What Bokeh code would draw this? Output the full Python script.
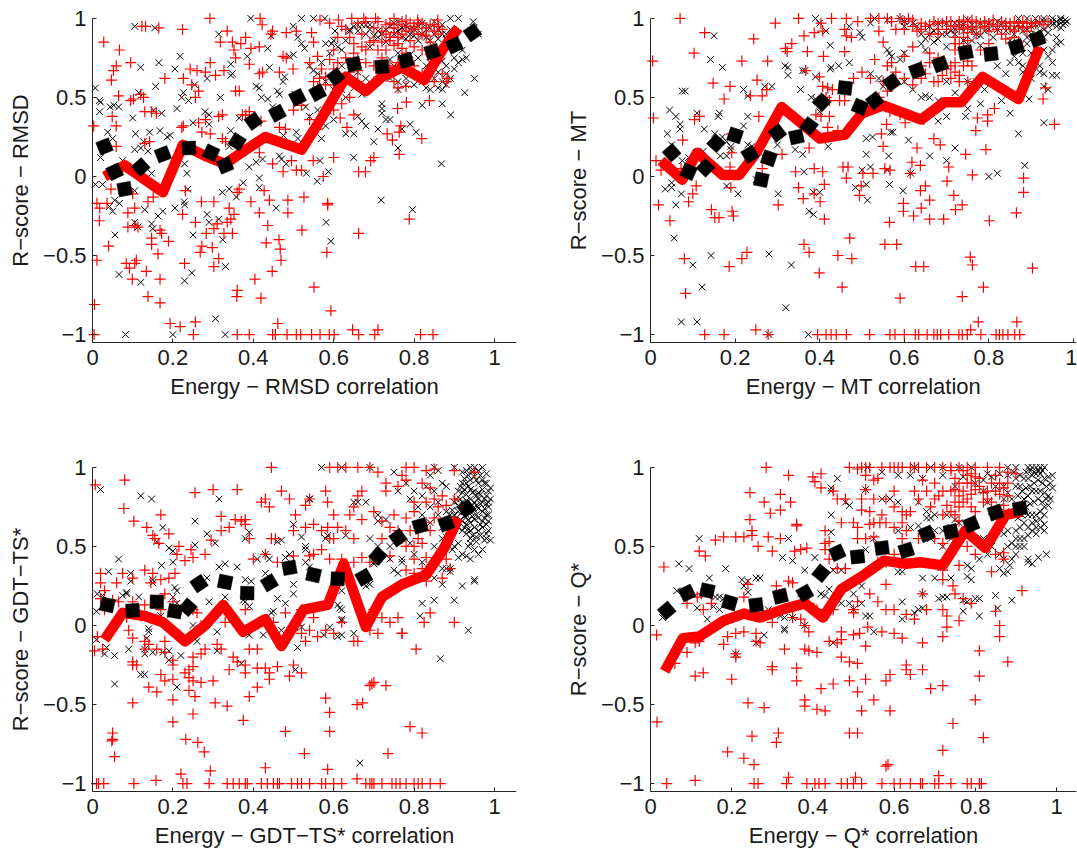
import math
from bokeh.plotting import figure
from bokeh.layouts import column, row
from bokeh.models import Label
from bokeh.embed import file_html
from bokeh.resources import INLINE

X_TICKS = [0, 0.2, 0.4, 0.6, 0.8, 1]
X_LABELS = ["0", "0.2", "0.4", "0.6", "0.8", "1"]
Y_TICKS = [-1, -0.5, 0, 0.5, 1]
Y_LABELS = ["\u22121", "\u22120.5", "0", "0.5", "1"]

P1_RED_MEAN = [(.03,0),(.08,.07),(.175,-.1),(.225,.2),(.28,.13),(.33,.08),(.37,.15),(.43,.25),(.52,.17),(.57,.37),(.63,.63),(.68,.54),(.72,.63),(.77,.69),(.825,.61),(.87,.8),(.91,.94)]
P1_BLACK_MEAN = [(.03,.19),(.055,.03),(.08,-.08),(.12,.06),(.175,.14),(.24,.18),(.295,.15),(.33,.07),(.36,.22),(.40,.35),(.46,.40),(.51,.5),(.56,.53),(.605,.63),(.65,.71),(.72,.695),(.78,.735),(.845,.79),(.90,.83),(.945,.91)]
P2_RED_MEAN = [(.025,.1),(.075,-.02),(.11,.15),(.17,.01),(.21,.01),(.25,.15),(.31,.44),(.4,.24),(.46,.265),(.5,.4),(.55,.45),(.64,.36),(.695,.47),(.735,.47),(.785,.63),(.87,.49),(.92,.82)]
P2_BLACK_MEAN = [(.05,.15),(.09,.03),(.13,.055),(.155,.21),(.2,.26),(.235,.14),(.262,-.02),(.28,.115),(.30,.275),(.345,.25),(.375,.32),(.405,.47),(.46,.56),(.495,.44),(.53,.48),(.57,.595),(.63,.67),(.685,.71),(.745,.785),(.805,.775),(.865,.82),(.915,.87)]
P3_RED_MEAN = [(.03,-.09),(.075,.08),(.13,.06),(.175,.02),(.23,-.1),(.28,0),(.325,.13),(.375,-.04),(.43,.04),(.47,-.13),(.525,.1),(.585,.13),(.625,.39),(.68,-.01),(.72,.18),(.77,.26),(.83,.32),(.875,.49),(.91,.68)]
P3_BLACK_MEAN = [(.037,.13),(.10,.095),(.16,.15),(.205,.09),(.237,.115),(.265,.265),(.33,.275),(.385,.205),(.44,.27),(.49,.365),(.55,.32),(.61,.295),(.675,.305),(.71,.44),(.76,.555),(.815,.63),(.88,.645),(.93,.74)]
P4_RED_MEAN = [(.035,-.29),(.08,-.08),(.12,-.07),(.18,.03),(.23,.075),(.27,.05),(.33,.105),(.38,.14),(.425,.05),(.47,.23),(.52,.31),(.575,.41),(.63,.39),(.665,.4),(.72,.38),(.775,.6),(.825,.49),(.875,.7),(.915,.72)]
P4_BLACK_MEAN = [(.04,.095),(.09,.205),(.14,.22),(.195,.145),(.26,.13),(.32,.185),(.38,.205),(.42,.33),(.46,.46),(.51,.435),(.57,.49),(.63,.475),(.68,.58),(.74,.595),(.79,.64),(.85,.715),(.91,.74)]

P1_RED = [(.004,-1),(.005,-.81),(.011,-.53),(.003,.32),(.028,.85),(.011,-.17),(.018,-.2),(.017,-.28),(.036,-.17),(.04,-.44),(.046,-.08),(.059,.19),(.049,.38),(.059,.32),(.047,.61),(.052,.67),(.059,.7),(.065,.51),(.067,.8),(.095,.72),(.095,.48),(.102,.49),(.12,.52),(.127,.5),(.123,.95),(.132,.95),(.165,.94),(.224,.93),(.292,1),(.335,.92),(.318,.85),(.348,.85),(.352,.8),(.369,.84),(.381,.88),(.394,.81),(.417,1),(.422,.96),(.415,.82),(.444,.9),(.448,.92),(.482,.91),(.507,.92),(.545,.91),(.566,.99),(.612,.99),(.645,1),(.675,1),(.704,1),(.75,1),(.78,.99),(.809,.99),(.859,.99),
(.39,.71),(.356,.75),(.293,.72),(.327,.67),(.306,.64),(.281,.66),(.26,.67),(.243,.68),(.226,.62),(.18,.62),(.247,.58),(.264,.54),(.256,.5),(.356,.54),(.365,.54),(.415,.65),(.423,.66),(.465,.66),(.499,.68),(.482,.75),(.474,.76),(.13,.41),(.159,.4),(.147,.41),(.226,.32),(.222,.31),(.281,.36),(.264,.34),(.314,.38),(.323,.39),(.272,.28),(.293,.27),(.323,.24),(.331,.22),(.373,.39),(.381,.39),(.39,.41),(.419,.35),(.465,.31),(.415,.15),(.448,.08),(.495,.1),(.474,.03),(.507,.04),(.52,.04),(.549,.1),(.574,0),(.6,.12),(.616,.37),(.633,.31),(.65,.39),(.7,.12),(.692,.1),(.662,.03),(.679,.03),(.733,.27),(.746,.23),(.763,.14),(.763,.28),(.767,.32),(.819,.24),(.759,.43),(.781,.47),(.884,.62),(.838,.48),
(.13,.21),(.142,.22),(.138,-.16),(.151,-.13),(.088,-.23),(.105,-.2),(.1,-.11),(.088,-.32),(.105,-.31),(.113,-.32),(.147,-.39),(.147,-.43),(.168,-.34),(.172,-.36),(.189,-.41),(.163,-.49),(.084,-.55),(.109,-.53),(.105,-.55),(.092,-.58),(.099,-.65),(.134,-.6),(.138,-.76),(.168,-.65),(.168,-.8),(.193,-.93),(.218,-.95),(.251,-1),(.256,-.92),(.229,-.55),(.224,-.24),(.231,-.09),(.271,-.16),(.256,-.29),(.268,-.48),(.272,-.44),(.302,-.33),(.283,-.36),(.298,-.45),(.302,-.57),(.314,-.52),(.302,-.16),(.31,-.3),(.335,-.29),(.344,-.27),(.34,-.2),(.352,-.24),(.348,-.36),(.327,-.36),(.36,-.1),(.365,-.08),(.394,-.16),(.415,-.23),(.427,-.09),(.44,-.15),(.486,-.15),(.486,-.23),(.436,-.31),(.432,-.42),(.464,-.4),(.467,-.46),(.469,-.53),(.447,-.6),(.404,-.65),(.419,-.77),(.36,-.72),(.359,-.76),(.36,-1),(.39,-1),(.448,-1),(.455,-1),(.484,-1),(.461,-.93),(.507,-1),(.518,-1),(.545,-1),(.566,-1),(.589,-1),(.601,-1),(.593,-.85),(.551,-.7),(.583,-.48),(.585,-.17),(.585,-.18),(.521,-.34),(.526,-.13),(.647,-.97),(.662,-1),(.702,-1),(.71,-.97),(.816,-1),(.847,-1),(.662,-.36),(.788,-.27),
(.55,.85),(.56,.76),(.54,.72),(.57,.68),(.565,.62),(.58,.63),(.55,.6),(.59,.74),(.6,.8),(.61,.88),(.63,.93),(.65,.84),(.67,.9),(.68,.8),(.7,.86),(.72,.92),(.73,.8),(.74,.88),(.75,.94),(.76,.84),(.77,.9),(.78,.95),(.79,.86),(.8,.93),(.81,.97),(.82,.9),(.83,.94),(.84,.85),(.85,.96),(.86,.9),(.7,.7),(.72,.75),(.68,.72),(.75,.6),(.76,.56),(.78,.57),(.66,.6),(.64,.5),(.62,.46),(.6,.42),(.58,.4),(.56,.3),(.54,.36),(.52,.45),(.5,.42),(.48,.3),(.7,.6),
(.59,.97),(.62,.95),(.64,.88),(.66,.97),(.68,.98),(.7,.94),(.71,.98),(.73,.96),(.74,.97),(.75,.91),(.76,.96),(.77,.98),(.78,.92),(.79,.97),(.8,.95),(.81,.9),(.82,.97),(.83,.89),(.84,.96),(.85,.92),(.86,.95),(.87,.93),(.74,.86),(.75,.83),(.77,.81),(.76,.88),(.73,.9),(.72,.85),(.71,.8),(.69,.85),(.67,.82),(.65,.78),(.66,.74),(.63,.75),(.61,.72),(.6,.68),(.58,.58),(.56,.56),(.6,.58),(.62,.62),(.64,.66),(.66,.67),(.74,.7),(.76,.72),(.78,.78),(.8,.82),(.82,.8),(.84,.77),(.8,.7),(.82,.65),(.85,.6),(.87,.65),(.88,.6)]
P1_BLACK = [(.007,.56),(.017,.48),(.02,.47),(.018,.41),(.007,-.05),(.025,-.05),(.02,.12),(.038,.28),(.05,.24),(.044,.44),(.053,.45),(.065,.44),(.056,-.37),(.066,-.62),(.082,-1),(.2,-1),(.33,-1),(.306,-.9),(.105,.95),(.155,.94),(.165,.72),(.12,.69),(.115,.53),(.157,.57),(.152,.42),(.172,.4),(.1,.37),(.107,.27),(.127,.22),(.142,.28),(.168,.29),(.186,.25),(.193,.26),(.105,.17),(.12,.18),(.138,.16),(.075,.1),(.105,-.09),(.055,-.15),(.05,-.22),(.042,-.19),(.067,-.17),(.147,.02),(.13,-.21),(.147,-.3),(.15,-.33),(.163,-.25),(.175,-.22),(.105,-.29),(.113,-.32),(.12,-.67),(.205,-.2),(.228,-.16),(.229,-.18),(.247,-.61),(.229,-.66),(.25,-.37),(.285,-.24),(.29,-.29),(.314,-.27),(.324,-.4),(.331,-.57),(.323,-.1),(.34,-.08),(.358,-.13),(.375,-.04),(.415,-.01),(.415,-.07),(.237,-.08),(.235,.02),(.229,.08),(.21,.43),(.226,.53),(.222,.5),(.239,.48),(.205,.68),(.218,.76),(.254,.58),(.25,.34),(.28,.41),(.29,.39),(.29,.33),(.318,.5),(.314,.9),(.285,.62),(.394,1),(.385,.76),(.344,.71),(.348,.65),(.344,.64),(.34,.19),(.344,.29),(.365,.37),(.39,.06),(.407,.09),(.423,.11),(.407,.57),(.415,.56),(.44,.69),(.436,.81),(.444,.89),(.42,.5),(.436,.49),(.448,.44),(.46,.54),(.465,.52),(.474,.6),(.478,.63),(.503,.52),(.499,.95),(.511,.88),(.52,.84),(.528,.81),(.49,.76),(.5,.77),(.52,1),(.55,1),(.578,1),(.595,.84),(.603,.92),(.549,.67),(.54,.7),(.465,.13),(.47,.11),(.482,.08),(.475,.26),(.507,.28),(.511,.24),(.457,-.2),(.532,.02),(.559,-.03),(.587,.03),(.566,.1),(.581,-.29),(.593,-.41),(.718,-.15),(.796,-.21),(.868,.08),(.891,.39),(.926,.53),(.95,.62),(.947,.98),
(.53,.44),(.54,.38),(.56,.42),(.58,.32),(.6,.36),(.57,.24),(.63,.27),(.65,.27),(.65,.12),(.66,.38),(.67,.35),(.68,.32),(.7,.22),(.71,.3),(.72,.4),(.73,.36),(.74,.36),(.76,.18),(.77,.3),(.79,.33),(.805,.28),(.82,.45),(.83,.56),(.84,.55),(.87,.46),(.88,.58),(.87,.55),(.89,.62),(.88,.7),(.87,.73),(.63,.5),(.65,.56),(.67,.52),(.72,.46),(.72,.43),(.76,.6),(.78,.58),(.8,.58),(.62,.8),(.64,.93),(.65,.95),(.66,.92),(.67,.96),(.68,.96),(.69,.93),(.7,.89),(.71,.88),(.72,.9),(.73,.85),(.74,.95),(.75,.9),(.76,.98),(.77,.94),(.78,.87),(.79,.93),(.8,.89),(.81,.95),(.82,.9),(.83,.93),(.84,.86),(.85,.98),(.86,.93),(.87,.96),(.88,.9),(.89,1),(.91,1),(.92,.8),(.93,.75),(.91,.82),(.9,.75),(.96,.9),(.95,.94),(.89,.86),(.6,.86),(.62,.7),(.69,.82),(.74,.74),(.76,.78),(.83,.7),
(.64,.92),(.66,.96),(.68,.9),(.69,.96),(.71,.92),(.73,.93),(.75,.97),(.76,.92),(.77,.88),(.78,.95),(.79,.9),(.8,.93),(.81,.86),(.82,.97),(.83,.88),(.84,.94),(.85,.9),(.86,.87),(.87,.9),(.88,.87),(.89,.93),(.63,.86),(.61,.82),(.59,.78),(.58,.84),(.57,.72),(.56,.65),(.58,.6),(.6,.55),(.62,.55),(.64,.6),(.66,.66),(.68,.62),(.74,.62),(.76,.55),(.78,.62),(.8,.65),(.82,.6),(.85,.62),(.86,.56),(.87,.6),(.88,.65),(.9,.68),(.91,.72),(.92,.74),(.86,.66),(.84,.72),(.81,.75),(.79,.77),(.77,.72),(.75,.7)]

P2_RED = [(.07,1),(.128,.91),(.103,.78),(.005,.73),(.007,.37),(.013,.1),(.025,.04),(.019,-.18),(.046,-.28),(.072,.05),(.076,.23),(.104,.36),(.116,.38),(.108,-.06),(.1,-.11),(.09,-.16),(.144,-.21),(.152,-.26),(.162,-.26),(.193,-.22),(.196,-.25),(.08,-.52),(.083,-.74),(.128,-1),(.174,-1),(.186,-.57),(.216,-.52),(.228,-.48),(.249,-.97),(.278,-1),(.148,.59),(.174,.49),(.188,.57),(.216,.73),(.244,.87),(.252,.61),(.236,.51),(.264,.51),(.275,.55),(.277,.73),(.295,.97),(.35,1),(.319,.81),(.323,.79),(.334,.84),(.363,.89),(.387,.91),(.407,.92),(.428,1),(.463,1),(.403,.97),(.459,.93),(.49,.98),(.463,.89),(.475,.88),(.459,.79),(.409,.76),(.371,.79),(.367,.67),(.399,.63),(.407,.57),(.419,.56),(.43,.55),(.415,.5),(.423,.48),(.391,.39),(.403,.38),(.423,.38),(.419,.31),(.447,.48),(.459,.48),(.443,.29),(.475,.33),(.455,.06),(.467,.06),(.463,-.01),(.494,-.12),(.498,-.06),(.502,.02),(.526,.02),(.375,.18),(.387,.05),(.407,.03),(.411,-.05),(.343,.03),(.35,-.07),(.361,-.14),(.387,-.11),(.401,-.16),(.411,-.27),(.302,-.18),(.264,.05),(.311,.14),(.256,.38),(.192,.27),(.192,.15),(.188,.06),(.19,-.07),
(.363,-.43),(.375,-.48),(.443,-.5),(.471,-.39),(.476,-.52),(.399,-.61),(.453,-.7),(.395,-1),(.415,-1),(.427,-1),(.439,-1),(.463,-1),(.518,-1),(.566,-1),(.578,-1),(.6,-1),(.626,-1),(.634,-1),(.654,-1),(.67,-1),(.678,-1),(.686,-1),(.705,-1),(.729,-1),(.737,-1),(.757,-.97),(.749,-1),(.781,-1),(.775,-.92),(.817,-1),(.825,-1),(.833,-1),(.845,-1),(.861,-1),(.873,-1),(.866,-.92),(.787,-.7),(.737,-.76),(.59,-.77),(.903,-.58),(.756,-.51),(.761,-.56),(.627,-.57),(.646,-.57),(.554,-.43),(.582,-.43),(.565,-.29),(.598,-.17),(.598,-.22),(.622,-.25),(.64,-.2),(.66,-.27),(.693,-.27),(.66,-.15),(.638,-.09),(.65,-.06),(.717,-.12),(.721,-.21),(.737,-.18),(.801,-.28),(.865,-.23),(.882,-.1),(.882,-.01),(.761,.01),(.745,.14),(.701,-.03),(.705,.06),(.638,.07),(.618,.09),(.614,.02),(.63,.18),(.685,.2),(.67,.24),(.793,.17),(.955,.33),(.928,.49),(.934,.56),(.797,.39),(.797,.35),(.813,.43),(.769,.29),(.773,.37),(.646,.36),(.602,.34),(.59,.39),(.566,.41),(.558,.33),(.546,.27),(.55,.19),(.554,.05),(.566,.04),
(.52,1),(.54,1),(.54,.92),(.55,.85),(.56,1),(.57,.98),(.59,1),(.6,.93),(.61,1),(.62,.95),(.63,.92),(.64,.97),(.65,.95),(.66,.9),(.67,.98),(.68,.93),(.69,.97),(.7,.98),(.71,.98),(.72,.95),(.73,.98),(.74,.99),(.74,.94),(.75,.98),(.76,.95),(.76,.99),(.77,.98),(.78,.94),(.79,.98),(.8,.97),(.81,.99),(.82,.95),(.83,.98),(.84,.97),(.85,.93),(.86,.98),(.87,.95),(.88,.98),(.89,.97),(.9,.97),(.92,.98),(.94,.98),(.68,.9),(.72,.88),(.72,.84),(.74,.8),(.62,.82),(.6,.76),(.64,.7),(.62,.58),(.64,.62),(.63,.66),(.66,.72),(.68,.6),(.7,.68),(.72,.66),(.74,.7),(.73,.64),(.75,.6),(.6,.62),(.56,.7),(.53,.74),(.5,.66),(.48,.62),(.55,.6),(.56,.54),(.52,.62),(.54,.5),(.5,.45),(.58,.66),(.57,.72),
(.58,.93),(.6,.98),(.62,.99),(.64,.93),(.66,.96),(.68,.97),(.7,.93),(.71,.95),(.73,.93),(.74,.96),(.75,.91),(.76,.93),(.77,.9),(.78,.97),(.79,.95),(.8,.92),(.81,.96),(.82,.93),(.83,.9),(.84,.95),(.85,.97),(.86,.92),(.87,.97),(.88,.94),(.89,.92),(.9,.95),(.91,.97),(.93,.96),(.75,.86),(.74,.88),(.73,.84),(.72,.8),(.68,.75),(.66,.78),(.65,.65),(.67,.6),(.69,.64),(.71,.7),(.75,.73),(.76,.7),(.78,.8),(.8,.84),(.84,.87),(.86,.88),(.87,.85),(.72,.72),(.71,.62),(.73,.6)]
P2_BLACK = [(.39,1),(.4,.97),(.415,.92),(.425,.83),(.15,.89),(.142,.74),(.17,.69),(.22,.55),(.075,.54),(.082,.54),(.045,.42),(.06,.38),(.07,.33),(.07,.3),(.04,.27),(.11,.4),(.127,.3),(.152,.27),(.16,.38),(.163,.4),(.17,.25),(.18,.22),(.19,.19),(.19,.17),(.18,.13),(.165,.13),(.125,.16),(.09,.12),(.05,.2),(.075,.1),(.075,.01),(.035,-.08),(.05,-.04),(.05,-.07),(.073,-.11),(.06,-.18),(.056,-.39),(.1,-.56),(.143,-.5),(.122,-.7),(.073,-.92),(.11,-.92),(.28,-1),(.28,-.49),(.333,-.56),(.32,-.83),(.373,-1),(.375,-.22),(.385,-.24),(.385,-.1),(.4,-.1),(.302,-.11),(.18,-.06),(.207,-.11),(.25,-.02),(.27,.12),(.24,.19),(.23,.2),(.3,.2),(.342,.17),(.36,.14),(.363,.03),(.23,.38),(.22,.32),(.23,.51),(.27,.57),(.287,.57),(.318,.7),(.325,.69),(.325,.64),(.36,.67),(.365,.67),(.38,.5),(.39,.49),(.355,.55),(.39,.63),(.4,.41),(.42,.19),(.425,.68),(.427,.69),(.445,.7),(.47,.72),(.46,.58),(.47,.95),(.495,.91),(.5,.88),(.52,.97),(.53,1),(.56,.99),(.59,1),(.6,.98),(.63,.95),(.485,-.07),(.5,.04),(.51,.14),(.51,-.05),(.513,-.15),(.52,.06),(.51,.24),(.525,.25),(.563,.13),(.56,.04),(.565,-.05),(.568,.28),(.573,.28),(.597,-.09),(.61,.23),(.615,.02),(.66,.13),(.65,.51),(.7,.1),(.72,.18),(.745,.38),(.8,0),(.82,.02),(.885,.07),(.93,.34),(.87,.27),(.895,.49),(.93,.57),(.94,.55),(.96,.64),(.97,.85),(.55,.57),(.52,.65),(.54,.62),(.56,.8),(.565,.78),(.57,.76),(.6,.78),(.59,.74),(.6,.6),(.62,.55),(.64,.5),(.66,.5),(.68,.48),(.68,.35),(.7,.38),(.75,.43),(.78,.46),(.79,.55),(.83,.48),(.85,.4),(.75,.6),(.77,.6),(.7,.6),(.72,.53),(.65,.8),(.64,.84),(.67,.85),(.7,.82),(.72,.9),(.74,.92),(.76,.86),(.78,.83),(.8,.8),(.82,.7),(.84,.65),(.85,.72),(.86,.76),(.87,.72),(.88,.66),(.9,.62),(.92,.7),(.93,.65),(.94,.76),(.95,.8),(.96,.84),(.96,.88),(.97,.97),(.98,.99),(.97,.94),(.96,.98),(.95,.96),(.94,.95),(.93,.98),(.92,.92),(.91,.9),(.9,.95),(.89,.88),(.88,.92),(.87,.96),(.86,.9),(.85,.86),(.84,.92),(.83,.97),(.82,.93),(.81,.88),(.8,.97),(.79,.92),(.78,.97),(.77,.9),(.76,.96),(.75,.99),(.74,.86),(.73,.97),(.72,.97),(.71,.92),(.7,.97),(.69,.9),(.68,.97),(.67,.92),(.66,.9),(.65,.87),(.985,.98),(.97,1),(.95,1),(.93,1),(.91,1),(.89,1),(.87,1),
(.6,.95),(.62,.97),(.64,.9),(.66,.95),(.68,.87),(.7,.9),(.72,.93),(.74,.96),(.76,.93),(.78,.89),(.8,.93),(.82,.98),(.84,.96),(.86,.94),(.88,.96),(.89,.93),(.9,.9),(.91,.96),(.92,.97),(.93,.93),(.94,.91),(.95,.98),(.96,.95),(.97,.99),(.975,.96),(.98,.97),(.93,.88),(.91,.86),(.89,.84),(.87,.84),(.86,.8),(.88,.78),(.9,.78),(.91,.74),(.93,.8),(.95,.72),(.95,.64),(.92,.66),(.88,.7)]

P3_RED = [(.007,.89),(.08,.92),(.078,.74),(.103,.66),(.005,-.16),(.02,.33),(.02,.27),(.03,.22),(.02,.17),(.03,.1),(.012,-.07),(.025,-.15),(.05,.16),(.065,.15),(.075,.33),(.1,.3),(.13,.35),(.15,.33),(.135,.62),(.15,.57),(.155,.55),(.165,.52),(.17,.7),(.19,.58),(.215,.5),(.21,.45),(.205,.33),(.19,.3),(.17,.29),(.145,.27),(.18,.2),(.2,.15),(.23,.41),(.245,.48),(.25,.43),(.255,.84),(.28,.45),(.295,.54),(.3,.86),(.34,.62),(.36,.86),(.32,.69),(.32,.6),(.355,.67),(.37,.66),(.38,.64),(.38,.67),(.39,.55),(.4,.42),(.42,.78),(.43,.8),(.44,.75),(.445,1),(.47,.85),(.49,.8),(.505,.7),(.5,.6),(.455,.55),(.445,.55),(.43,.45),(.46,.4),(.5,.44),(.54,.44),(.53,.62),(.55,.64),(.54,.8),(.53,.76),(.58,.85),(.585,.78),(.585,.62),(.59,.55),(.6,.55),(.57,.48),(.55,.45),(.62,.42),(.65,.55),(.63,.6),(.64,.7),(.65,.75),(.67,.85),(.66,.82),(.59,1),(.61,1),(.63,1),(.66,1),(.69,1),(.71,.97),(.73,.9),(.75,.7),(.74,.62),(.72,.66),(.73,.85),(.7,.72),(.67,.67),(.76,.88),(.78,.92),(.78,1),(.8,1),(.83,.98),(.85,.99),(.82,.9),(.85,.8),(.87,.82),(.88,.76),(.9,.8),(.95,.97),(.9,.98),(.8,.72),(.78,.68),(.77,.55),(.8,.5),(.79,.6),(.83,.65),(.82,.52),(.8,.42),(.78,.35),(.82,.36),(.83,.28),(.88,.42),(.87,.3),(.89,.36),(.84,.08),(.9,.02),(.825,.02),(.74,.02),(.76,.05),(.77,-.05),(.69,-.03),(.71,-.05),(.65,-.1),(.66,-.1),(.55,.05),(.54,-.03),(.56,-.07),(.58,-.03),(.6,-.05),(.52,-.05),(.53,-.1),(.48,.08),(.45,.02),(.38,.1),(.4,.0),(.33,.02),(.3,.05),(.26,.08),(.25,.1),(.22,.1),(.17,.1),(.13,.13),(.1,.15),(.09,-.03),(.1,-.08),(.1,-.23),(.1,-.25),(.11,-.25),(.13,-.1),(.13,-.15),(.14,-.12),(.16,-.15),(.18,-.17),(.18,-.1),(.2,-.22),(.2,-.25),(.17,-.31),(.18,-.35),(.2,-.34),(.2,-.47),(.14,-.39),(.16,-.42),(.1,-.49),(.2,-.61),(.232,-.72),(.262,-.74),(.278,-.8),(.293,-.92),(.22,-.94),(.24,-.28),(.25,-.2),(.25,-.26),(.23,-.3),(.24,-.33),(.25,-.35),(.27,-.36),(.24,-.41),(.255,-.45),(.25,-.56),(.3,-.35),(.305,-.49),(.335,-.51),(.375,-.6),(.39,-.45),(.41,-.39),(.28,-.15),(.27,-.18),(.32,-.15),(.31,-.12),(.35,-.2),(.36,-.23),(.34,-.28),(.38,-.25),(.38,-.3),(.39,-.15),(.41,-.15),(.41,-.27),(.43,-.27),(.44,-.3),(.44,-.34),(.46,-.26),(.49,-.32),(.52,-.3),(.5,-.25),(.48,-.67),(.527,-.81),(.43,-.9),(.585,-.91),(.59,-.67),(.59,-.55),(.58,-.46),(.658,-.5),(.672,-.49),(.695,-.37),(.69,-.38),(.7,-.36),(.73,-.38),(.79,-.64),(.82,-.68),(.735,-.81),(.658,-.97),(.805,-.15),(.77,-.05),(.05,-.72),(.048,-.73),(.05,-.68),(.055,-.83),(.18,.0),(.01,-1),(.015,-1),(.028,-1),(.103,-1),(.158,-.98),(.225,-1),(.235,-1),(.29,-1),(.335,-1),(.35,-1),(.365,-1),(.38,-1),(.385,-1),(.42,-1),(.435,-1),(.45,-1),(.46,-1),(.465,-1),(.495,-1),(.51,-1),(.52,-1),(.54,-1),(.57,-1),(.58,-1),(.6,-1),(.62,-1),(.68,-1),(.69,-1),(.695,-1),(.7,-1),(.72,-1),(.745,-1),(.755,-1),(.765,-1),(.78,-1),(.8,-1),(.81,-1),(.82,-1),(.84,-1),(.865,-1),
(.72,.55),(.74,.44),(.76,.6),(.78,.5),(.8,.33),(.81,.55),(.83,.43),(.84,.6),(.85,.68),(.86,.75),(.8,.78),(.83,.78),(.77,.95),(.84,.87),(.6,.7),(.61,.62),(.57,.6),(.59,.42),(.62,.02),(.65,.4),(.67,.43),(.69,.4),(.7,.1),(.72,.05),(.52,.1),(.51,0),(.06,.27),(.085,.05),(.12,.06),(.16,.04),(.27,.0)]
P3_BLACK = [(.02,.86),(.12,.82),(.147,.8),(.175,.62),(.16,.53),(.19,.49),(.2,.47),(.2,.4),(.172,.38),(.15,.29),(.15,.27),(.04,.34),(.012,.2),(.025,.19),(.01,.09),(.065,.42),(.095,.33),(.095,.28),(.085,.2),(.075,.19),(.085,.21),(.115,.18),(.2,.18),(.205,.24),(.21,.22),(.255,.66),(.255,.51),(.285,.58),(.305,.52),(.315,.8),(.315,.37),(.33,.39),(.36,.37),(.38,.55),(.39,.59),(.38,.29),(.395,.28),(.41,.42),(.43,.45),(.44,.42),(.43,.33),(.48,.43),(.49,.45),(.52,.56),(.5,.64),(.46,.53),(.47,.54),(.53,.5),(.53,.48),(.54,.8),(.54,.8),(.57,1),(.62,1),(.69,1),(.58,.55),(.585,.57),(.53,.4),(.54,.37),(.48,.14),(.445,.08),(.45,.09),(.5,.2),(.5,.26),(.46,.17),(.375,.16),(.38,.15),(.39,.12),(.33,.18),(.29,.15),(.285,.3),(.25,.1),(.25,0),(.21,.14),(.195,.07),(.17,.06),(.01,-.09),(.03,-.18),(.035,-.14),(.055,-.19),(.09,-.15),(.055,-.37),(.13,-.15),(.13,-.18),(.135,-.08),(.14,-.04),(.14,-.02),(.15,-.17),(.175,-.17),(.19,-.16),(.19,-.22),(.22,-.19),(.21,-.39),(.12,-.31),(.13,-.31),(.26,-.1),(.31,-.16),(.31,-.04),(.37,-.24),(.39,-.06),(.425,-.06),(.47,-.03),(.51,-.14),(.505,-.28),(.52,-.01),(.575,-.06),(.59,-.01),(.61,.13),(.615,.11),(.62,.04),(.62,.03),(.61,-.07),(.62,-.06),(.62,.1),(.65,-.05),(.665,-.87),(.62,.22),(.65,.78),(.66,.78),(.63,.57),(.68,.25),(.69,.26),(.7,.4),(.7,.39),(.69,.55),(.71,.5),(.73,.67),(.71,.7),(.71,.66),(.68,.78),(.74,.42),(.74,.5),(.75,.35),(.77,.4),(.76,.33),(.77,.42),(.79,.52),(.8,.45),(.81,.3),(.82,.4),(.82,.14),(.815,.06),(.85,.16),(.85,.3),(.865,-.21),(.87,.36),(.87,.26),(.88,.36),(.89,.34),(.89,.36),(.92,.25),(.95,.28),(.95,.29),(.935,-.03),(.9,.16),(.78,.9),(.76,.85),(.75,.97),(.79,.8),(.8,.85),(.82,.7),(.84,.65),(.85,.85),(.84,.95),(.85,1),(.86,.98),(.9,1),(.92,.97),(.93,.98),(.94,1),(.95,1),(.96,.98),(.97,1),(.98,.96),(.92,.9),(.93,.9),(.94,.92),(.95,.94),(.96,.9),(.97,.92),(.98,.9),(.99,.87),(.91,.85),(.92,.84),(.93,.83),(.94,.86),(.95,.85),(.96,.84),(.97,.86),(.98,.82),(.99,.8),(.9,.78),(.91,.76),(.92,.78),(.93,.79),(.94,.8),(.95,.78),(.96,.8),(.97,.78),(.98,.77),(.88,.72),(.89,.7),(.9,.7),(.91,.72),(.92,.72),(.93,.7),(.94,.72),(.95,.73),(.96,.74),(.97,.72),(.98,.7),(.9,.65),(.92,.66),(.93,.64),(.94,.65),(.95,.67),(.96,.68),(.97,.66),(.98,.64),(.92,.6),(.93,.58),(.94,.6),(.95,.62),(.96,.6),(.97,.62),(.98,.55),(.9,.5),(.92,.45),(.94,.55),(.95,.48),(.97,.48),(.96,.45),(.93,.44),(.87,.62),(.85,.5),(.87,.55),
(.925,.93),(.935,.95),(.945,.97),(.955,.92),(.965,.95),(.975,.9),(.985,.85),(.915,.88),(.925,.86),(.935,.88),(.945,.84),(.955,.82),(.965,.83),(.975,.8),(.985,.75),(.905,.8),(.915,.8),(.925,.76),(.935,.75),(.945,.76),(.955,.76),(.965,.77),(.975,.74),(.985,.7),(.895,.73),(.905,.68),(.915,.67),(.925,.69),(.935,.67),(.945,.69),(.955,.7),(.965,.64),(.975,.68),(.985,.6),(.91,.62),(.925,.62),(.935,.61),(.945,.57),(.955,.56),(.965,.57),(.975,.54),(.99,.54),(.94,.52),(.955,.53),(.91,.52),(.935,.5),(.88,.56),(.89,.6),(.84,.75),(.86,.7),(.82,.82),(.81,.75),(.87,.9),(.83,.88),(.88,.88),(.86,.78),(.895,.48),(.91,.43),(.94,.42),(.98,.58),(.985,.66),(.985,.78)]

P4_RED = [(.015,-.06),(.016,-.61),(.033,.37),(.04,-1),(.11,-.98),(.11,-.32),(.13,-.3),(.06,-.24),(.09,-.17),(.09,.14),(.11,-.11),(.12,-.1),(.115,.18),(.125,.2),(.12,.47),(.135,.44),(.16,.54),(.18,.56),(.21,.56),(.23,.56),(.25,.57),(.25,.6),(.245,.67),(.245,.84),(.28,.78),(.265,.5),(.285,1),(.29,.56),(.3,.47),(.32,.55),(.295,.71),(.32,.73),(.32,.83),(.34,.95),(.345,.78),(.36,.63),(.36,.64),(.355,.47),(.37,.48),(.385,.49),(.4,.94),(.42,.96),(.405,.91),(.42,.87),(.43,.6),(.43,.52),(.44,.53),(.45,.85),(.48,.8),(.46,.8),(.47,.65),(.43,.48),(.44,.42),(.46,.36),(.48,.36),(.5,.65),(.51,.62),(.49,1),(.51,.99),(.53,.86),(.52,.8),(.52,.73),(.54,.72),(.54,.64),(.51,.55),(.53,.55),(.55,.56),(.56,.4),(.53,.33),(.55,.92),(.56,.93),(.58,.8),(.57,1),(.59,1),(.61,1),(.6,.85),(.6,.75),(.565,.65),(.58,.65),(.62,.65),(.62,.72),(.63,.7),(.65,.85),(.64,1),(.65,1),(.68,1),(.7,1),(.72,1),(.7,.9),(.69,.75),(.72,.7),(.72,.85),(.74,.85),(.75,.78),(.76,.75),(.77,.85),(.78,.9),(.8,1),(.83,1),(.86,1),(.88,.97),(.8,.94),(.81,.88),(.82,.84),(.83,.85),(.84,.78),(.85,.85),(.86,.83),(.87,.76),(.88,.9),(.9,.96),(.8,.72),(.79,.75),(.76,.66),(.77,.56),(.78,.5),(.74,.45),(.76,.38),(.72,.35),(.72,.29),(.745,.25),(.75,.2),(.77,.17),(.79,.14),(.72,.1),(.73,.06),(.67,.2),(.68,.1),(.65,.04),(.63,.07),(.6,.1),(.58,.1),(.56,.15),(.58,.26),(.54,.2),(.51,.15),(.5,.1),(.5,.08),(.45,.1),(.41,.1),(.39,.14),(.35,.27),(.34,.28),(.31,.25),(.24,.26),(.23,.18),(.13,.1),(.15,.14),(.23,-.04),(.21,-.05),(.19,-.07),(.18,-.12),(.21,-.18),(.21,-.2),(.2,-.34),(.26,-.1),(.27,-.11),(.26,-.05),(.3,.02),(.35,.05),(.37,.04),(.38,.0),(.39,-.04),(.33,-.15),(.38,-.15),(.39,-.16),(.41,-.17),(.3,-.26),(.3,-.28),(.36,-.27),(.36,-.35),(.47,-.2),(.49,-.23),(.51,-.24),(.49,-.35),(.53,-.34),(.58,-.35),(.59,-.31),(.63,-.25),(.63,-.28),(.64,-.31),(.67,-.28),(.69,-.4),(.72,-.38),(.44,-.1),(.46,-.11),(.47,-.09),(.47,-.04),(.5,-.06),(.515,-.05),(.53,-.13),(.535,-.01),(.57,-.04),(.6,-.05),(.62,-.08),(.67,-.11),(.72,-.07),(.73,-.01),(.76,.03),(.85,.09),(.86,0),(.86,-.07),(.88,-.23),(.81,-.16),(.81,-.32),(.8,-.47),(.82,-.71),(.72,-.79),(.745,-.62),(.59,-.54),(.55,-.47),(.52,-.54),(.51,-.42),(.49,-.68),(.51,-.68),(.38,-.47),(.38,-.51),(.41,-.53),(.43,-.54),(.42,-.4),(.45,-.37),(.28,-.52),(.24,-.49),(.25,-.7),(.31,-.74),(.315,-.68),(.19,-.8),(.23,-.84),(.255,-.88),(.34,-.96),(.58,-.89),(.585,-.88),(.505,-.96),(.71,-.95),(.915,.22),(.84,.34),(.255,-1),(.265,-1),(.335,-1),(.385,-1),(.405,-1),(.415,-1),(.43,-1),(.47,-1),(.485,-1),(.5,-1),(.52,-1),(.57,-1),(.6,-1),(.615,-1),(.64,-1),(.665,-1),(.67,-1),(.7,-1),(.71,-1),(.74,-1),(.78,-1),(.79,-1),(.81,-1),(.815,-1),
(.74,.98),(.75,.93),(.76,.9),(.77,.98),(.78,.95),(.79,.83),(.79,.9),(.8,.86),(.81,.93),(.82,.78),(.83,.8),(.84,.9),(.85,.95),(.86,.9),(.87,.87),(.88,.82),(.75,.86),(.76,.82),(.77,.78),(.78,.8),(.74,.72),(.75,.7),(.73,.76),(.71,.82),(.7,.8),(.68,.85),(.67,.92),(.66,.8),(.64,.72),(.63,.6),(.6,.62),(.57,.7),(.55,.65),(.55,.8),(.53,.95),(.53,1),(.52,1),(.54,1),(.6,1),(.62,1),(.66,1),(.74,1),(.76,1),(.78,1),(.79,.96),(.62,.55),(.6,.45),(.58,.4),(.66,.55),(.7,.55),(.72,.52),(.75,.55),(.8,.45),(.85,.45),(.87,.46),(.87,.42)]
P4_BLACK = [(.03,.05),(.065,.22),(.07,.39),(.095,.36),(.12,.55),(.185,.36),(.115,.11),(.14,.04),(.145,.3),(.155,.12),(.16,.18),(.17,.1),(.17,.18),(.18,.17),(.225,.29),(.24,.28),(.26,.3),(.27,.3),(.325,.43),(.35,.41),(.34,.55),(.38,.35),(.405,.43),(.42,.2),(.45,.35),(.47,.35),(.445,.85),(.46,.93),(.445,.87),(.445,.7),(.445,.59),(.48,.78),(.49,.76),(.53,.86),(.535,1),(.57,.97),(.57,.8),(.59,.8),(.61,.78),(.61,.95),(.64,.95),(.67,.93),(.66,.78),(.68,.72),(.69,.68),(.7,.7),(.64,.62),(.66,.63),(.61,.6),(.55,.55),(.53,.48),(.68,.68),(.7,.6),(.7,.3),(.61,.34),(.62,.34),(.67,.3),(.78,.38),(.79,.36),(.78,.31),(.79,.29),(.81,.42),(.83,.45),(.74,.3),(.77,.16),(.78,.15),(.8,.17),(.81,.17),(.77,.09),(.72,.18),(.73,.18),(.71,.17),(.81,.06),(.855,.11),(.85,.19),(.89,.16),(.62,.04),(.62,.15),(.65,.08),(.66,.1),(.67,.11),(.67,.2),(.55,-.04),(.53,.06),(.54,.06),(.5,.1),(.5,.2),(.52,.14),(.52,.25),(.47,.14),(.49,.14),(.45,-.11),(.43,.19),(.44,.23),(.42,.2),(.38,.19),(.37,.2),(.38,0),(.33,-.02),(.33,-.03),(.32,.06),(.26,-.11),(.28,-.06),(.21,-.18),(.23,.25),(.24,.21),(.29,.1),(.33,.05),(.35,.05),(.74,.55),(.72,.6),(.69,.55),(.72,.5),(.74,.62),(.75,.67),(.73,.7),(.76,.65),(.78,.6),(.8,.55),(.82,.55),(.84,.5),(.86,.45),(.87,.42),(.88,.34),(.87,.33),(.89,.42),(.86,.36),(.91,.5),(.9,.5),(.92,.5),(.93,.4),(.94,.39),(.955,.43),(.975,.45),(.93,.42),(.92,.55),(.93,.57),(.94,.6),(.95,.62),(.96,.62),(.97,.64),(.95,.58),(.97,.6),(.88,.6),(.9,.6),(.91,.62),(.92,.65),(.93,.7),(.94,.7),(.95,.7),(.96,.72),(.97,.7),(.98,.76),(.9,.75),(.92,.8),(.93,.82),(.94,.85),(.95,.85),(.96,.85),(.97,.84),(.98,.82),(.99,.87),(.85,.88),(.87,.8),(.88,.84),(.9,.88),(.91,.88),(.92,.93),(.93,.93),(.94,.95),(.95,.96),(.96,.96),(.97,.93),(.98,.94),(.99,.95),(.93,1),(.94,1),(.95,1),(.96,1),(.97,1),(.88,1),(.9,1),(.79,1),(.76,1),(.77,.94),(.8,.9),(.82,.92),(.83,.96),(.84,.94),(.86,.96),(.88,.95),(.9,.93),(.65,1),(.69,1),(.72,1),(.75,.88),(.72,.95),
(.905,.68),(.915,.7),(.925,.75),(.935,.77),(.945,.78),(.955,.8),(.965,.78),(.975,.8),(.985,.8),(.905,.82),(.915,.85),(.925,.87),(.935,.88),(.945,.9),(.955,.92),(.965,.9),(.975,.88),(.985,.9),(.91,.95),(.895,.97),(.925,.97),(.935,.98),(.945,.97),(.955,.98),(.965,.98),(.97,.75),(.96,.67),(.95,.66),(.94,.65),(.93,.62),(.91,.55),(.9,.55),(.89,.52),(.88,.5),(.885,.38),(.9,.45),(.87,.58),(.86,.62),(.85,.68),(.84,.72),(.83,.78),(.82,.85),(.86,.75),(.88,.7),(.89,.72),(.89,.8),(.87,.88)]

X_LABEL_1 = "Energy \u2212 RMSD correlation"
X_LABEL_2 = "Energy \u2212 MT correlation"
X_LABEL_3 = "Energy \u2212 GDT\u2212TS* correlation"
X_LABEL_4 = "Energy \u2212 Q* correlation"
Y_LABEL_1 = "R\u2212score \u2212 RMSD"
Y_LABEL_2 = "R\u2212score \u2212 MT"
Y_LABEL_3 = "R\u2212score \u2212 GDT\u2212TS*"
Y_LABEL_4 = "R\u2212score \u2212 Q*"

FONT = "Liberation Sans"
TEXT = "#1a1a1a"
Y_UNIT_PX = 158.0
Y_FLOOR = -1.05


def panel(red, black, red_mean, black_mean, xlabel, ylabel, fig_w, fig_h, zero_px, right, top, bottom, unit):
    frame_w = fig_w - right
    x_end = (frame_w - zero_px) / unit
    p = figure(
        width=fig_w, height=fig_h, output_backend="svg", toolbar_location=None,
        x_range=(-zero_px / unit, x_end), y_range=(Y_FLOOR - bottom / Y_UNIT_PX, 1.05),
        min_border_left=0, min_border_right=right, min_border_top=top, min_border_bottom=0,
        background_fill_color="white", border_fill_color="white", outline_line_color=None,
    )
    p.grid.visible = False
    p.scatter([a for a, _ in black], [b for _, b in black], marker="x", size=9.5, line_color="#000000", line_width=1)
    p.scatter([a for a, _ in red], [b for _, b in red], marker="cross", size=11, line_color="#ff0000", line_width=1.2)
    p.line([a for a, _ in red_mean], [b for _, b in red_mean], line_color="#ff0000", line_width=10.5, line_join="round")
    angles = []
    n = len(black_mean)
    for i in range(n):
        a = black_mean[max(i - 1, 0)]
        b = black_mean[min(i + 1, n - 1)]
        angles.append(math.atan2((b[1] - a[1]) * Y_UNIT_PX, (b[0] - a[0]) * unit))
    p.scatter([a for a, _ in black_mean], [b for _, b in black_mean], marker="square", size=13.5, angle=angles,
              fill_color="#000000", line_color="#000000", line_width=0.5)
    for ax, ticks, labels in ((p.xaxis[0], X_TICKS, X_LABELS), (p.yaxis[0], Y_TICKS, Y_LABELS)):
        ax.ticker = ticks
        ax.major_label_overrides = dict(zip(ticks, labels))
        ax.major_tick_in = 4
        ax.major_tick_out = 0
        ax.minor_tick_in = 0
        ax.minor_tick_out = 0
        ax.axis_line_color = "#262626"
        ax.major_tick_line_color = "#262626"
        ax.major_label_text_font = FONT
        ax.major_label_text_font_size = "22px"
        ax.major_label_text_color = TEXT
        ax.axis_label_text_font = FONT
        ax.axis_label_text_font_size = "22px"
        ax.axis_label_text_font_style = "normal"
        ax.axis_label_text_color = TEXT
    p.yaxis[0].axis_label = ylabel
    p.xaxis[0].bounds = (0, x_end)
    p.yaxis[0].bounds = (Y_FLOOR, 1)
    p.yaxis[0].fixed_location = 0
    p.xaxis[0].fixed_location = Y_FLOOR
    p.xaxis[0].major_label_standoff = 8
    p.yaxis[0].major_label_standoff = 6
    p.yaxis[0].axis_label_standoff = 7
    p.add_layout(Label(x=x_end / 2, y=Y_FLOOR - 44 / Y_UNIT_PX, text=xlabel, text_align="center", text_baseline="middle",
                       text_font=FONT, text_font_size="22px", text_color=TEXT))
    return p


p1 = panel(P1_RED, P1_BLACK, P1_RED_MEAN, P1_BLACK_MEAN, X_LABEL_1, Y_LABEL_1, 540, 440, 92, 24, 10, 98, 402.0)
p2 = panel(P2_RED, P2_BLACK, P2_RED_MEAN, P2_BLACK_MEAN, X_LABEL_2, Y_LABEL_2, 537, 440, 110, 1, 10, 98, 423.0)
p3 = panel(P3_RED, P3_BLACK, P3_RED_MEAN, P3_BLACK_MEAN, X_LABEL_3, Y_LABEL_3, 540, 409, 92, 24, 19, 58, 402.0)
p4 = panel(P4_RED, P4_BLACK, P4_RED_MEAN, P4_BLACK_MEAN, X_LABEL_4, Y_LABEL_4, 537, 409, 110, 1, 19, 58, 406.0)

layout = column(row(p1, p2, spacing=0), row(p3, p4, spacing=0), spacing=0)
open("out.html", "w").write(file_html(layout, INLINE))
